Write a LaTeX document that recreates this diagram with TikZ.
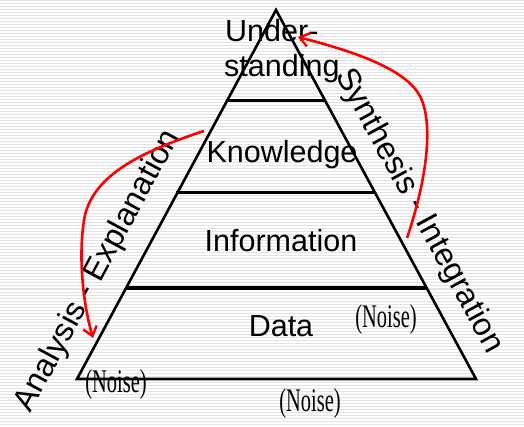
\documentclass[tikz,border=0pt]{standalone}
\usepackage{fontspec}
\setmainfont{Liberation Sans}
\newfontfamily\noisefont{Liberation Serif}
\usetikzlibrary{arrows.meta}
\begin{document}
\begin{tikzpicture}[x=1pt,y=-1pt,
  stripe/.style={draw=black!11, line width=1pt},
  edge/.style={draw=black, line width=2.6pt, line join=miter},
  level/.style={draw=black, line width=3pt},
  lbl/.style={inner sep=0pt, font=\fontsize{30.5}{35}\selectfont},
  side/.style={inner sep=0pt, font=\fontsize{32}{36}\selectfont},
  noise/.style={inner sep=0pt, font=\noisefont\fontsize{33}{36}\selectfont, xscale=0.62},
  flow/.style={draw=red, line width=2.6pt, -{Straight Barb[length=9pt,width=14pt,line width=2.4pt]}}]
\useasboundingbox (0,0) rectangle (524,427);
\fill[white] (0,0) rectangle (524,427);
\foreach \y in {1,4,...,427} \draw[stripe] (0,\y) -- (524,\y);
% triangle
\coordinate (top) at (276,10);
\coordinate (bl) at (77,379);
\coordinate (br) at (476,379);
\draw[edge] (top) -- (bl) -- (br) -- cycle;
\coordinate (l1) at (227,101); \coordinate (r1) at (325,101);
\coordinate (l2) at (176,193); \coordinate (r2) at (375,193);
\coordinate (l3) at (126,288); \coordinate (r3) at (427,288);
\draw[level] (l1) -- (r1);
\draw[level] (l2) -- (r2);
\draw[level] (l3) -- (r3);
% labels
\node[lbl, anchor=base west] (und) at (225,42) {Under-};
\node[lbl, anchor=base west] (sta) at (224,77) {standing};
\node[lbl, anchor=base] (kn) at (282,163) {Knowledge};
\node[lbl, anchor=base] (inf) at (281,252) {Information};
\node[lbl, anchor=base] (dat) at (281,336) {Data};
\node[side, rotate=61.7] (ana) at (98,271) {Analysis - Explanation};
\node[side, rotate=-61.4] (syn) at (419,211) {Synthesis - Integration};
\node[noise] (n1) at (386,320) {(Noise)};
\node[noise] (n2) at (116,385) {(Noise)};
\node[noise] (n3) at (310,404) {(Noise)};
% arrows
\coordinate (a1s) at (204,131);
\coordinate (a1m) at (85,215);
\coordinate (a1e) at (93,338);
\draw[flow] (a1s) .. controls (140,152) and (95,175) .. (a1m) .. controls (78,250) and (82,300) .. (a1e);
\coordinate (a2s) at (407,238);
\coordinate (a2m) at (416,90);
\coordinate (a2e) at (298,37);
\draw[flow] (a2s) .. controls (430,170) and (434,112) .. (a2m) .. controls (396,64) and (340,48) .. (a2e);
\end{tikzpicture}
\end{document}
